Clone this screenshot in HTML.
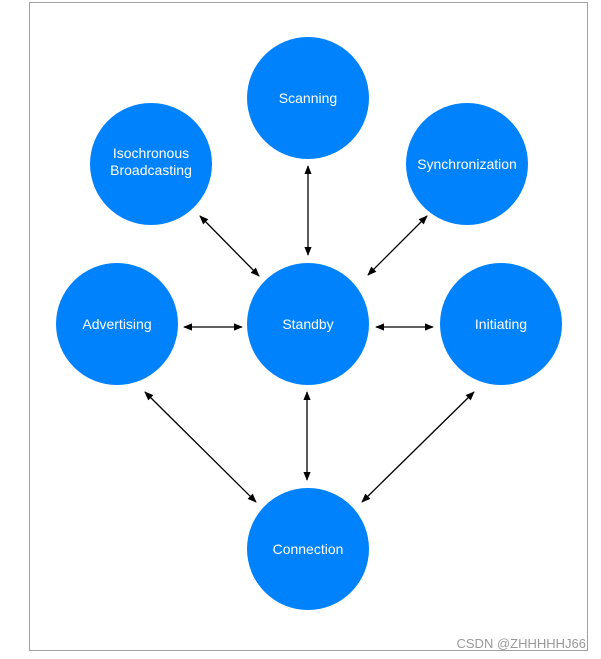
<!DOCTYPE html>
<html><head><style>
html,body{margin:0;padding:0;background:#fff;width:601px;height:659px;overflow:hidden}
svg{display:block}
text{font-family:"Liberation Sans",sans-serif;}
</style></head><body>
<svg width="601" height="659" viewBox="0 0 601 659" xmlns="http://www.w3.org/2000/svg">
<defs>
<marker id="a" viewBox="0 0 10 10" refX="9" refY="5" markerWidth="7" markerHeight="7" orient="auto-start-reverse">
<path d="M0,1 L10,5 L0,9 z" fill="#000"/></marker>
</defs>
<rect x="29.5" y="2.5" width="558" height="648" fill="#fff" stroke="#a0a0a0" stroke-width="1"/>
<g fill="#0082fc">
<circle cx="308" cy="98" r="61"/>
<circle cx="151" cy="164" r="61"/>
<circle cx="467" cy="164" r="61"/>
<circle cx="117" cy="324" r="61"/>
<circle cx="308" cy="324" r="61"/>
<circle cx="501" cy="324" r="61"/>
<circle cx="308" cy="549" r="61"/>
</g>
<g stroke="#000" stroke-width="1.3" marker-start="url(#a)" marker-end="url(#a)">
<line x1="308" y1="166" x2="308" y2="255"/>
<line x1="200" y1="216" x2="259" y2="276"/>
<line x1="427" y1="216" x2="368" y2="275"/>
<line x1="184" y1="327" x2="242" y2="327"/>
<line x1="376" y1="327" x2="433" y2="327"/>
<line x1="145" y1="392" x2="256" y2="502"/>
<line x1="307" y1="392" x2="307" y2="480"/>
<line x1="474" y1="392" x2="362" y2="502"/>
</g>
<g fill="#fff" font-size="14" text-anchor="middle">
<text x="308" y="103">Scanning</text>
<text x="151" y="158">Isochronous</text>
<text x="151" y="175">Broadcasting</text>
<text x="467" y="169">Synchronization</text>
<text x="117" y="329">Advertising</text>
<text x="308" y="329">Standby</text>
<text x="501" y="329">Initiating</text>
<text x="308" y="554">Connection</text>
</g>
<text x="586" y="648" font-size="13" fill="#999" text-anchor="end">CSDN @ZHHHHHJ66</text>
</svg>
</body></html>
